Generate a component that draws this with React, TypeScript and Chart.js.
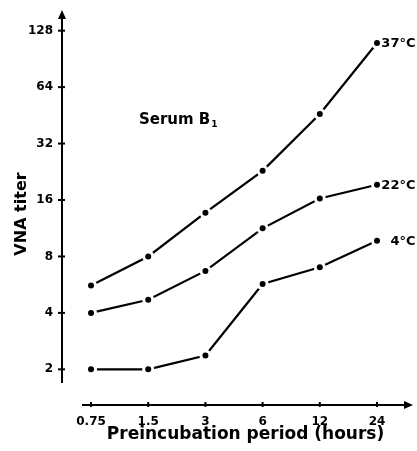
import React, { useEffect, useRef } from 'react';
import { Chart, registerables } from 'chart.js';

Chart.register(...registerables);

const hours = [0.75, 1.5, 3, 6, 12, 24];
const hourLabels = ['0.75', '1.5', '3', '6', '12', '24'];
const titerTicks = [2, 4, 8, 16, 32, 64, 128];
const titer37 = [5.6, 8, 13.7, 22.9, 46, 110];
const titer22 = [4, 4.7, 6.7, 11.3, 16.3, 19.3];
const titer4 = [2, 2, 2.37, 5.7, 7.0, 9.7];
const seriesNames = ['37°C', '22°C', '4°C'];
const seriesValues = [titer37, titer22, titer4];
const annotationMain = 'Serum B';
const annotationSub = '1';
const xTitle = 'Preincubation period (hours)';
const yTitle = 'VNA titer';

const FONT = '"DejaVu Sans", sans-serif';

const decorPlugin = {
  id: 'decor',
  afterDraw(chart: any) {
    const { ctx, scales } = chart;
    const x = scales.x;
    const y = scales.y;
    ctx.save();
    ctx.strokeStyle = '#000';
    ctx.fillStyle = '#000';
    ctx.lineWidth = 2;
    // y axis with arrow
    const ax = y.right;
    const top = chart.chartArea.top;
    const yBottom = x.top - 22;
    ctx.beginPath();
    ctx.moveTo(ax, top + 6);
    ctx.lineTo(ax, yBottom);
    ctx.stroke();
    ctx.beginPath();
    ctx.moveTo(ax, top);
    ctx.lineTo(ax - 4, top + 9);
    ctx.lineTo(ax + 4, top + 9);
    ctx.closePath();
    ctx.fill();
    y.ticks.forEach((t: any) => {
      const py = y.getPixelForValue(t.value);
      ctx.beginPath();
      ctx.moveTo(ax - 4, py);
      ctx.lineTo(ax + 3, py);
      ctx.stroke();
    });
    // x axis with arrow
    const ay = x.top;
    const xStart = y.right + 20;
    const xEnd = x.right + 3;
    ctx.beginPath();
    ctx.moveTo(xStart, ay);
    ctx.lineTo(xEnd - 6, ay);
    ctx.stroke();
    ctx.beginPath();
    ctx.moveTo(xEnd, ay);
    ctx.lineTo(xEnd - 9, ay - 4);
    ctx.lineTo(xEnd - 9, ay + 4);
    ctx.closePath();
    ctx.fill();
    x.ticks.forEach((t: any) => {
      const px = x.getPixelForValue(t.value);
      ctx.beginPath();
      ctx.moveTo(px, ay - 3);
      ctx.lineTo(px, ay + 2);
      ctx.stroke();
    });
    // x title
    ctx.font = `bold 17px ${FONT}`;
    ctx.textAlign = 'center';
    ctx.textBaseline = 'middle';
    ctx.fillText(xTitle, (x.left + x.right) / 2 + 9.5, x.top + 30);
    // y title (rotated)
    ctx.save();
    ctx.font = `bold 16px ${FONT}`;
    ctx.translate(21.5, (chart.chartArea.top + chart.chartArea.bottom) / 2 + 6.5);
    ctx.rotate(-Math.PI / 2);
    ctx.fillText(yTitle, 0, 0);
    ctx.restore();
    // series labels
    ctx.font = `bold 13px ${FONT}`;
    ctx.textAlign = 'right';
    ctx.textBaseline = 'middle';
    for (let i = 0; i < seriesNames.length; i++) {
      const meta = chart.getDatasetMeta(i);
      const pts = meta.data;
      const last = pts[pts.length - 1];
      ctx.fillText(seriesNames[i], last.x + 38.5, last.y + 1);
    }
    // annotation
    ctx.textAlign = 'left';
    ctx.textBaseline = 'alphabetic';
    ctx.font = `bold 15px ${FONT}`;
    const ann = { x: x.getPixelForValue(1.34), y: y.getPixelForValue(64) + 36.5 };
    ctx.fillText(annotationMain, ann.x, ann.y);
    const w = ctx.measureText(annotationMain).width;
    ctx.font = `bold 9px ${FONT}`;
    ctx.fillText(annotationSub, ann.x + w + 1, ann.y + 3);
    ctx.restore();
  },
};

export default function App() {
  const ref = useRef<HTMLCanvasElement | null>(null);
  useEffect(() => {
    if (!ref.current) return;
    const pts = (vals: number[]) => hours.map((h, j) => ({ x: h, y: vals[j] }));
    const dotSets = seriesValues.map((vals, i) => ({
      label: seriesNames[i] + ' points',
      data: pts(vals),
      showLine: false,
      pointRadius: 3,
      pointBackgroundColor: '#000',
      pointBorderWidth: 0,
      borderColor: '#000',
    }));
    const haloSets = seriesValues.map((vals, i) => ({
      label: seriesNames[i] + ' halo',
      data: pts(vals),
      showLine: false,
      pointRadius: 6,
      pointBackgroundColor: '#ffffff',
      pointBorderWidth: 0,
      borderColor: '#ffffff',
    }));
    const lineSets = seriesValues.map((vals, i) => ({
      label: seriesNames[i],
      data: pts(vals),
      borderColor: '#000',
      borderWidth: 2.2,
      tension: 0,
      pointRadius: 0,
    }));
    const chart = new Chart(ref.current, {
      type: 'line',
      data: { datasets: [...dotSets, ...haloSets, ...lineSets] as any },
      options: {
        animation: false,
        responsive: true,
        maintainAspectRatio: false,
        layout: { padding: { top: 10, right: 7, left: 0, bottom: 0 } },
        plugins: { legend: { display: false }, tooltip: { enabled: false } },
        scales: {
          x: {
            type: 'logarithmic',
            min: 0.5276,
            max: 35.8,
            afterBuildTicks: (s: any) => {
              s.ticks = hours.map((v) => ({ value: v }));
            },
            afterFit: (s: any) => {
              s.height = 46;
              s.paddingLeft = 0;
              s.paddingRight = 0;
            },
            ticks: {
              callback: (_v: any, i: number) => hourLabels[i],
              font: { family: FONT, size: 12, weight: 'bold' },
              color: '#000',
              padding: 10,
              maxRotation: 0,
              autoSkip: false,
            },
            grid: { display: false, drawTicks: false },
            border: { display: false },
            title: { display: false, text: xTitle },
          },
          y: {
            type: 'logarithmic',
            min: 1.2906,
            max: 165,
            afterBuildTicks: (s: any) => {
              s.ticks = titerTicks.map((v) => ({ value: v }));
            },
            afterFit: (s: any) => {
              s.width = 62;
              s.paddingTop = 0;
              s.paddingBottom = 0;
            },
            ticks: {
              callback: (_v: any, i: number) => String(titerTicks[i]),
              font: { family: FONT, size: 12, weight: 'bold' },
              color: '#000',
              padding: 9,
              autoSkip: false,
            },
            grid: { display: false, drawTicks: false },
            border: { display: false },
            title: { display: false, text: yTitle },
          },
        },
      } as any,
      plugins: [decorPlugin],
    });
    return () => chart.destroy();
  }, []);
  return (
    <div style={{ position: 'absolute', left: 0, top: 0, width: 417, height: 451, background: '#fff' }}>
      <canvas ref={ref} />
    </div>
  );
}
